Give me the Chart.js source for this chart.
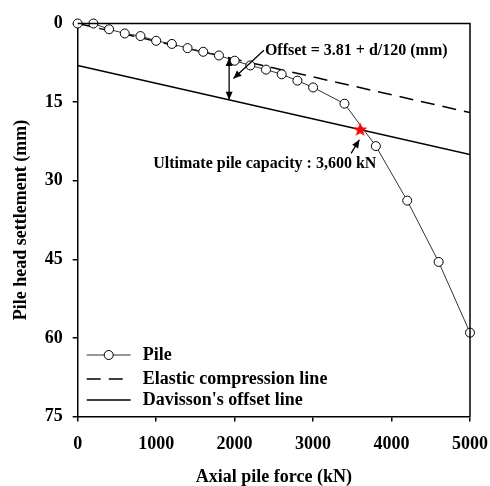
<!DOCTYPE html>
<html lang="en">
<head>
    <meta charset="UTF-8">
    <title>Pile load test</title>
    <style>
        body {
            margin: 0;
            padding: 0;
            background-color: #ffffff;
        }
        #chartBox {
            width: 490px;
            height: 486px;
        }
    </style>
</head>
<body>
    <div id="chartBox">
        <canvas id="pileChart" width="490" height="486"></canvas>
    </div>

    <script src="https://cdn.jsdelivr.net/npm/chart.js"></script>
    <script>
        // Load test readings (kN vs mm)
        const forces = [0, 200, 400, 600, 800, 1000, 1200, 1400, 1600, 1800, 2000, 2200, 2400, 2600, 2800, 3000, 3400, 3800, 4200, 4600, 5000];
        const settlements = [0, 0, 1.1, 1.9, 2.4, 3.3, 3.9, 4.7, 5.4, 6.1, 7.1, 8.0, 8.8, 9.7, 10.9, 12.2, 15.3, 23.4, 33.8, 45.5, 59.0];

        // Reference lines (end points)
        const lineForces = [0, 5000];
        const elasticLine = [0, 17];
        const davissonLine = [8, 25];

        // Ultimate capacity where the pile curve meets Davisson's line
        const capacityForce = [3600];
        const capacitySettlement = [20.2];

        const xTicks = [0, 1000, 2000, 3000, 4000, 5000];
        const yTicks = [0, 15, 30, 45, 60, 75];

        const serif = "'Liberation Serif', 'Times New Roman', serif";
        const boldFont = (size) => ({ family: serif, size: size, weight: 'bold', lineHeight: 1 });

        // Filled red star used as a point style
        function makeStar(size) {
            const c = document.createElement('canvas');
            c.width = size;
            c.height = size;
            const g = c.getContext('2d');
            const cx = size / 2, cy = size / 2 + 0.5;
            const outer = size / 2, inner = size / 2 * 0.42;
            g.beginPath();
            for (let i = 0; i < 10; i++) {
                const r = i % 2 === 0 ? outer : inner;
                const a = -Math.PI / 2 + i * Math.PI / 5;
                const px = cx + r * Math.cos(a);
                const py = cy + r * Math.sin(a);
                if (i === 0) g.moveTo(px, py); else g.lineTo(px, py);
            }
            g.closePath();
            g.fillStyle = '#ff0000';
            g.fill();
            return c;
        }

        function arrowHead(ctx, x1, y1, x2, y2, len, half) {
            const a = Math.atan2(y2 - y1, x2 - x1);
            ctx.beginPath();
            ctx.moveTo(x2, y2);
            ctx.lineTo(x2 - len * Math.cos(a) + half * Math.sin(a), y2 - len * Math.sin(a) - half * Math.cos(a));
            ctx.lineTo(x2 - len * Math.cos(a) - half * Math.sin(a), y2 - len * Math.sin(a) + half * Math.cos(a));
            ctx.closePath();
            ctx.fill();
        }

        function arrow(ctx, x1, y1, x2, y2, both) {
            ctx.beginPath();
            ctx.moveTo(x1, y1);
            ctx.lineTo(x2, y2);
            ctx.stroke();
            arrowHead(ctx, x1, y1, x2, y2, 8, 3.5);
            if (both) arrowHead(ctx, x2, y2, x1, y1, 8, 3.5);
        }

        // Box around the plot, offset annotations and the legend
        const extras = {
            id: 'extras',
            afterDraw(chart) {
                const ctx = chart.ctx;
                const area = chart.chartArea;
                const xs = chart.scales.x;
                const ys = chart.scales.y;
                ctx.save();
                ctx.strokeStyle = '#000';
                ctx.fillStyle = '#000';
                ctx.lineWidth = 1.5;
                ctx.beginPath();
                ctx.moveTo(area.left, area.top);
                ctx.lineTo(area.right, area.top);
                ctx.lineTo(area.right, area.bottom);
                ctx.stroke();

                // offset between elastic line and Davisson's line
                const fx = 1930;
                const yTop = elasticLine[0] + (elasticLine[1] - elasticLine[0]) * fx / 5000;
                const yBot = davissonLine[0] + (davissonLine[1] - davissonLine[0]) * fx / 5000;
                ctx.lineWidth = 1.3;
                arrow(ctx, xs.getPixelForValue(fx), ys.getPixelForValue(yBot),
                      xs.getPixelForValue(fx), ys.getPixelForValue(yTop), true);
                arrow(ctx, xs.getPixelForValue(2373), ys.getPixelForValue(5.1),
                      xs.getPixelForValue(1985), ys.getPixelForValue(10.5), false);
                arrow(ctx, xs.getPixelForValue(3484), ys.getPixelForValue(24.8),
                      xs.getPixelForValue(3590), ys.getPixelForValue(22.2), false);

                ctx.font = 'bold 16px ' + serif;
                ctx.textBaseline = 'middle';
                ctx.textAlign = 'left';
                ctx.fillText('Offset = 3.81 + d/120 (mm)', xs.getPixelForValue(2386), ys.getPixelForValue(5.2));
                ctx.fillText('Ultimate pile capacity : 3,600 kN', xs.getPixelForValue(963), ys.getPixelForValue(26.7));

                // legend
                const lx0 = area.left + 9, lx1 = area.left + 53, tx = area.left + 65;
                const rows = [area.bottom - 61.5, area.bottom - 37.5, area.bottom - 16.5];
                ctx.font = 'bold 18px ' + serif;
                ctx.lineWidth = 1;
                ctx.strokeStyle = '#333';
                ctx.beginPath();
                ctx.moveTo(lx0, rows[0]);
                ctx.lineTo(lx1, rows[0]);
                ctx.stroke();
                ctx.beginPath();
                ctx.arc((lx0 + lx1) / 2, rows[0], 4.5, 0, Math.PI * 2);
                ctx.fillStyle = '#fff';
                ctx.fill();
                ctx.strokeStyle = '#000';
                ctx.stroke();
                ctx.fillStyle = '#000';
                ctx.lineWidth = 1.5;
                ctx.setLineDash([14, 8]);
                ctx.beginPath();
                ctx.moveTo(lx0, rows[1]);
                ctx.lineTo(lx0 + 38, rows[1]);
                ctx.stroke();
                ctx.setLineDash([]);
                ctx.beginPath();
                ctx.moveTo(lx0, rows[2]);
                ctx.lineTo(lx1, rows[2]);
                ctx.stroke();
                ctx.fillText('Pile', tx, rows[0]);
                ctx.fillText('Elastic compression line', tx, rows[1]);
                ctx.fillText("Davisson's offset line", tx, rows[2]);
                ctx.restore();
            }
        };

        const ctx = document.getElementById('pileChart').getContext('2d');
        const chart = new Chart(ctx, {
            type: 'line',
            data: {
                datasets: [
                    {
                        label: 'Ultimate capacity',
                        data: capacityForce.map((f, i) => ({ x: f, y: capacitySettlement[i] })),
                        pointStyle: makeStar(15),
                        showLine: false,
                        order: 0,
                        clip: false
                    },
                    {
                        label: 'Pile',
                        data: forces.map((f, i) => ({ x: f, y: settlements[i] })),
                        borderColor: '#333',
                        borderWidth: 1,
                        pointRadius: 4.5,
                        pointBackgroundColor: '#fff',
                        pointBorderColor: '#000',
                        pointBorderWidth: 1,
                        order: 1,
                        clip: false
                    },
                    {
                        label: 'Elastic compression line',
                        data: lineForces.map((f, i) => ({ x: f, y: elasticLine[i] })),
                        borderColor: '#000',
                        borderWidth: 1.5,
                        borderDash: [14, 8],
                        pointRadius: 0,
                        order: 2
                    },
                    {
                        label: "Davisson's offset line",
                        data: lineForces.map((f, i) => ({ x: f, y: davissonLine[i] })),
                        borderColor: '#000',
                        borderWidth: 1.5,
                        pointRadius: 0,
                        order: 3
                    }
                ]
            },
            options: {
                responsive: false,
                animation: false,
                devicePixelRatio: 1,
                layout: { padding: { top: 23.5, right: 20, left: 0, bottom: 0 } },
                plugins: {
                    legend: { display: false },
                    tooltip: { enabled: false }
                },
                scales: {
                    x: {
                        type: 'linear',
                        min: 0,
                        max: 5000,
                        afterBuildTicks: (scale) => { scale.ticks = xTicks.map(v => ({ value: v })); },
                        afterFit: (scale) => {
                            scale.height = 69.5;
                            scale.paddingLeft = 0;
                            scale.paddingRight = 0;
                        },
                        ticks: { color: '#000', font: boldFont(18), padding: 14, maxRotation: 0, callback: (v) => String(v) },
                        grid: { drawOnChartArea: false, tickLength: 5, color: '#000', lineWidth: 1.5 },
                        border: { color: '#000', width: 1.5 },
                        title: { display: true, text: 'Axial pile force (kN)', color: '#000', font: boldFont(18), padding: 0 }
                    },
                    y: {
                        type: 'linear',
                        reverse: true,
                        min: 0,
                        max: 75,
                        afterBuildTicks: (scale) => { scale.ticks = yTicks.map(v => ({ value: v })); },
                        afterFit: (scale) => {
                            scale.width = 77.7;
                            scale.paddingTop = 0;
                            scale.paddingBottom = 0;
                        },
                        ticks: { color: '#000', font: boldFont(18), padding: 10, callback: (v) => String(v) },
                        grid: { drawOnChartArea: false, tickLength: 5, color: '#000', lineWidth: 1.5 },
                        border: { color: '#000', width: 1.5 },
                        title: { display: true, text: 'Pile head settlement (mm)', color: '#000', font: boldFont(18), padding: { top: 12, bottom: 0 } }
                    }
                }
            },
            plugins: [extras]
        });
    </script>
</body>
</html>
